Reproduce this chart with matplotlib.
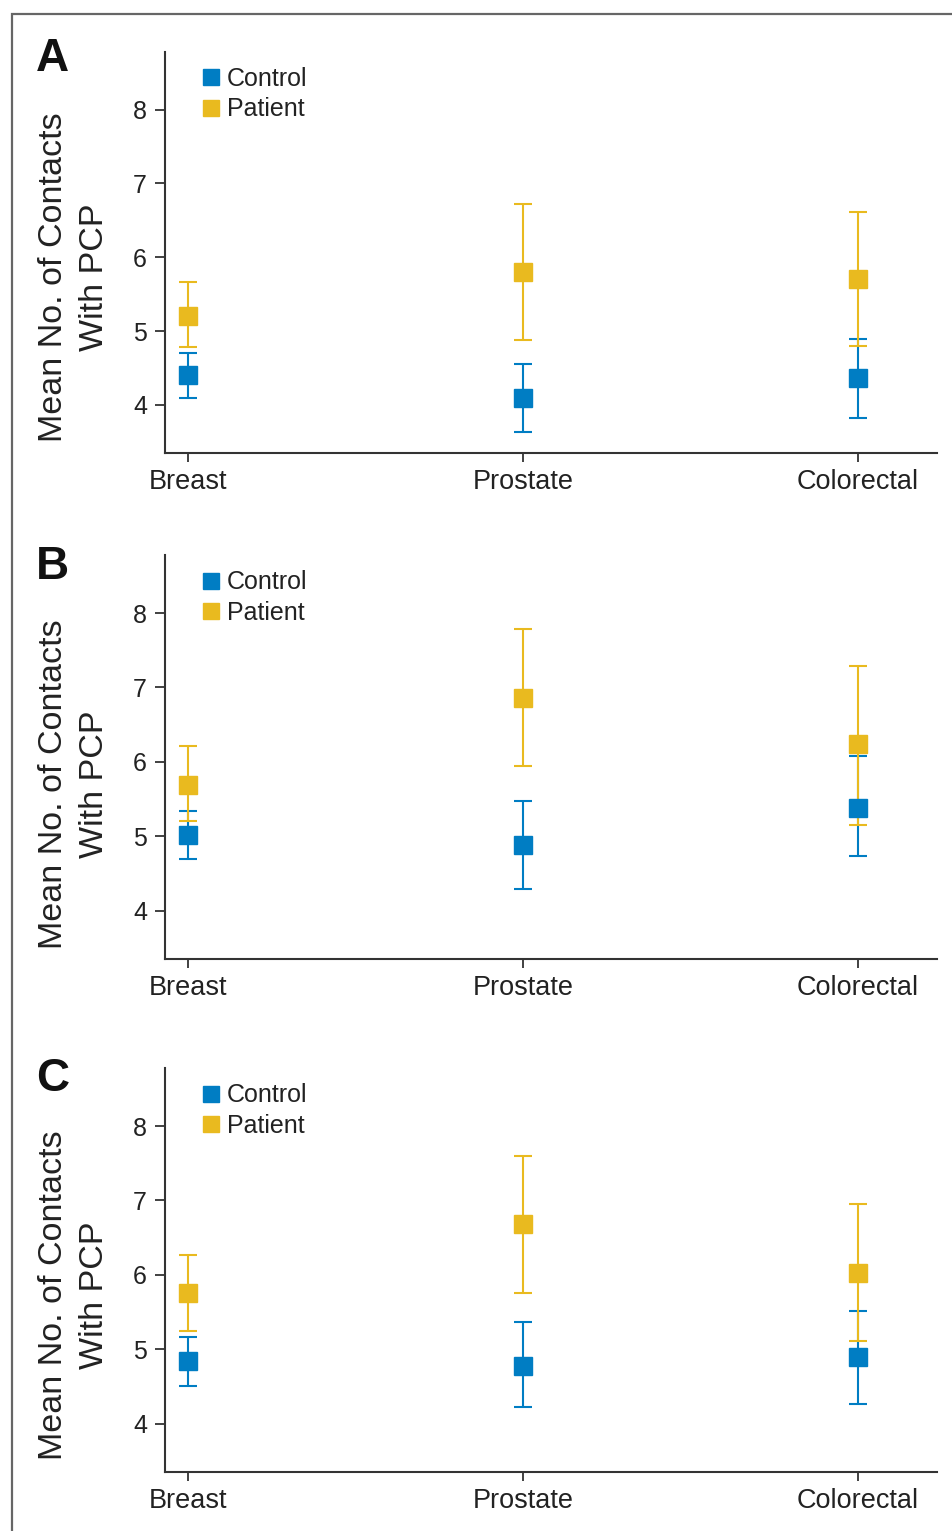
import matplotlib
matplotlib.use("Agg")
import matplotlib.pyplot as plt
from matplotlib import font_manager
from matplotlib.lines import Line2D
from matplotlib.patches import Rectangle

# data
categories = ["Breast", "Prostate", "Colorectal"]
panels = ["A", "B", "C"]

control_mean = [[4.40, 4.10, 4.37], [5.02, 4.88, 5.38], [4.84, 4.78, 4.89]]
control_lo = [[4.10, 3.64, 3.83], [4.70, 4.29, 4.74], [4.51, 4.22, 4.27]]
control_hi = [[4.70, 4.56, 4.89], [5.34, 5.47, 6.08], [5.16, 5.36, 5.51]]

patient_mean = [[5.21, 5.80, 5.70], [5.69, 6.86, 6.24], [5.76, 6.68, 6.02]]
patient_lo = [[4.78, 4.88, 4.80], [5.20, 5.94, 5.15], [5.24, 5.75, 5.11]]
patient_hi = [[5.67, 6.72, 6.62], [6.21, 7.78, 7.29], [6.27, 7.60, 6.95]]

yticks = [4, 5, 6, 7, 8]

blue = "#007DC3"
yellow = "#E9BA1F"
ink = "#222222"
axis_col = "#333333"

# condensed font for the y label if there is one
names = {f.name for f in font_manager.fontManager.ttflist}
narrow = "Liberation Sans Narrow" if "Liberation Sans Narrow" in names else None
plt.rcParams["font.family"] = ["Liberation Sans", "DejaVu Sans"]

W, H = 952, 1531
fig = plt.figure(figsize=(W / 100, H / 100), dpi=100)

# grey frame round the figure (right and bottom run off the page)
fig.patches.append(Rectangle((12 / W, -0.05), 1.2, 1 - 14 / H + 0.05,
                             transform=fig.transFigure, fill=False,
                             edgecolor="#666666", linewidth=1.6))

# axes boxes in pixels: (top, bottom)
boxes = [(52, 453), (555, 959), (1068, 1472)]
left, right = 165, 937
label_y = [277, 784, 1295]
letter_y = [37, 545, 1057]

x = list(range(len(categories)))

for i, (top, bot) in enumerate(boxes):
    ax = fig.add_axes([left / W, 1 - bot / H, (right - left) / W, (bot - top) / H])

    c_err = [[m - l for m, l in zip(control_mean[i], control_lo[i])],
             [h - m for m, h in zip(control_mean[i], control_hi[i])]]
    p_err = [[m - l for m, l in zip(patient_mean[i], patient_lo[i])],
             [h - m for m, h in zip(patient_mean[i], patient_hi[i])]]

    ax.errorbar(x, control_mean[i], yerr=c_err, fmt="none", ecolor=blue,
                elinewidth=1.5, capsize=6.5, capthick=1.5, zorder=2)
    ax.errorbar(x, patient_mean[i], yerr=p_err, fmt="none", ecolor=yellow,
                elinewidth=1.5, capsize=6.5, capthick=1.5, zorder=3)
    ax.plot(x, control_mean[i], "s", color=blue, markersize=13, linestyle="none", zorder=4)
    ax.plot(x, patient_mean[i], "s", color=yellow, markersize=13, linestyle="none", zorder=5)

    ax.set_xlim(-0.069, 2.236)
    ax.set_ylim(3.35, 8.78)
    ax.set_xticks(x)
    ax.set_xticklabels(categories, fontsize=19.5, color=ink)
    ax.set_yticks(yticks)
    ax.set_yticklabels([str(t) for t in yticks], fontsize=18, color=ink)

    for s in ["top", "right"]:
        ax.spines[s].set_visible(False)
    for s in ["left", "bottom"]:
        ax.spines[s].set_color(axis_col)
        ax.spines[s].set_linewidth(1.5)
    ax.tick_params(axis="y", length=7, width=1.3, color=axis_col, pad=6)
    ax.tick_params(axis="x", length=6.5, width=1.3, color=axis_col, pad=5)

    handles = [Line2D([], [], marker="s", color=blue, linestyle="none", markersize=12),
               Line2D([], [], marker="s", color=yellow, linestyle="none", markersize=12)]
    ax.legend(handles, ["Control", "Patient"], loc="upper left",
              bbox_to_anchor=(0.048, 0.962), frameon=False, fontsize=18,
              handlelength=0.7, handletextpad=0.3, labelspacing=0.25,
              borderpad=0, borderaxespad=0, labelcolor=ink)

    if narrow:
        lab_fam, lab_size, lab_ls = [narrow, "DejaVu Sans"], 29, 1.1
    else:
        lab_fam, lab_size, lab_ls = ["Liberation Sans", "DejaVu Sans"], 24.5, 1.4
    fig.text(74 / W, 1 - label_y[i] / H, "Mean No. of Contacts\nWith PCP",
             rotation=90, ha="center", va="center", multialignment="center",
             fontsize=lab_size, family=lab_fam, color=ink, linespacing=lab_ls)

    fig.text(36 / W, 1 - letter_y[i] / H, panels[i], ha="left", va="top",
             fontsize=33, fontweight="bold", color="#111111")

plt.savefig("out.png", dpi=100)
